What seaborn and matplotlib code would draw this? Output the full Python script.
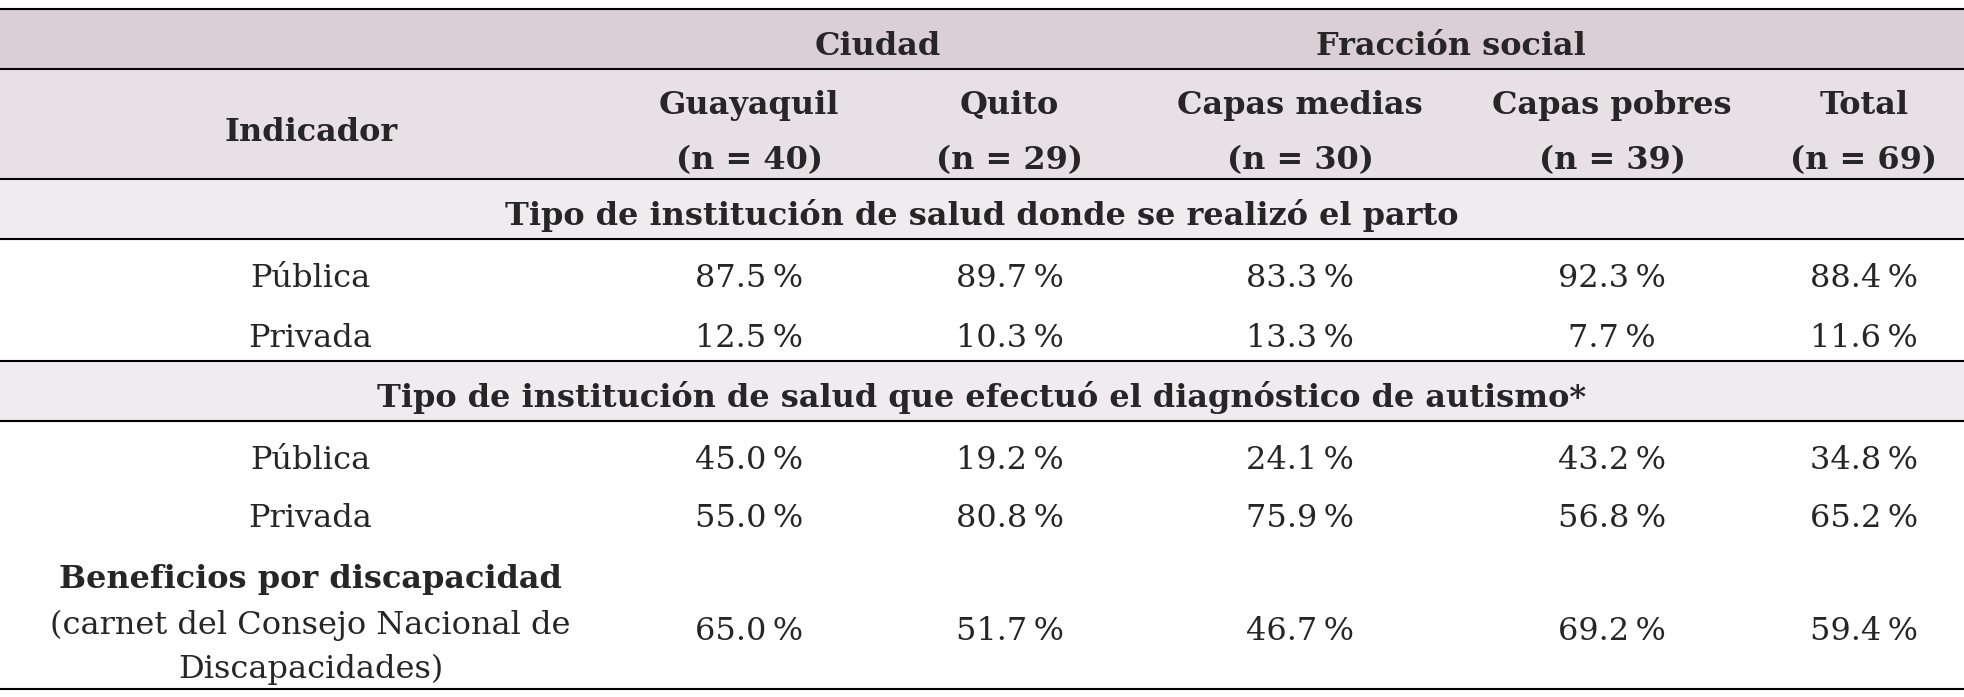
import numpy as np
import seaborn as sns
import matplotlib.pyplot as plt

# columns and values
groups = ['Ciudad', 'Fracción social']
columns = ['Guayaquil', 'Quito', 'Capas medias', 'Capas pobres', 'Total']
col_n = [40, 29, 30, 39, 69]
section_1 = 'Tipo de institución de salud donde se realizó el parto'
section_2 = 'Tipo de institución de salud que efectuó el diagnóstico de autismo*'
rows_1 = ['Pública', 'Privada']
vals_1 = [[87.5, 89.7, 83.3, 92.3, 88.4],
          [12.5, 10.3, 13.3, 7.7, 11.6]]
rows_2 = ['Pública', 'Privada']
vals_2 = [[45.0, 19.2, 24.1, 43.2, 34.8],
          [55.0, 80.8, 75.9, 56.8, 65.2]]
benef_title = 'Beneficios por discapacidad'
benef_sub = ['(carnet del Consejo Nacional de', 'Discapacidades)']
vals_benef = [65.0, 51.7, 46.7, 69.2, 59.4]

sns.set_style('white')
plt.rcParams['font.family'] = ['DejaVu Serif']

fig = plt.figure(figsize=(19.64, 6.97), dpi=100)
ax = fig.add_axes([0, 0, 1, 1])
ax.set_xlim(0, 1568)
ax.set_ylim(556, 0)
ax.axis('off')

W = 1568
col_x = [598, 806, 1038, 1287, 1488]
fs = 23
d = 2  # small vertical shift

# backgrounds
ax.axhspan(7, 55, color='#dacfd5', zorder=0)
ax.axhspan(55, 143, color='#e7e0e4', zorder=0)
ax.axhspan(143, 191, color='#f0ebee', zorder=0)
ax.axhspan(288, 336, color='#f0ebee', zorder=0)
for y in [7, 55, 143, 191, 288, 336, 550]:
    ax.axhline(y, color='black', lw=1.5)

def pct(v):
    return f'{v:.1f}\u2009%'

def t(x, y, s, bold=False):
    ax.text(x, y + d, s, ha='center', va='center', fontsize=fs,
            fontweight='bold' if bold else 'normal')

t(701, 35, groups[0], True)
t(1158, 35, groups[1], True)
t(248, 104, 'Indicador', True)
for x, c, n in zip(col_x, columns, col_n):
    t(x, 82, c, True)
    t(x, 126, f'(n = {n})', True)

t(W / 2, 170, section_1, True)
for y, r, vals in zip([220, 268], rows_1, vals_1):
    t(248, y, r)
    for x, v in zip(col_x, vals):
        t(x, y, pct(v))

t(W / 2, 315, section_2, True)
for y, r, vals in zip([365, 412], rows_2, vals_2):
    t(248, y, r)
    for x, v in zip(col_x, vals):
        t(x, y, pct(v))

t(248, 460, benef_title, True)
t(248, 497, benef_sub[0])
t(248, 532, benef_sub[1])
for x, v in zip(col_x, vals_benef):
    t(x, 502, pct(v))

fig.savefig('out.png', dpi=100)
